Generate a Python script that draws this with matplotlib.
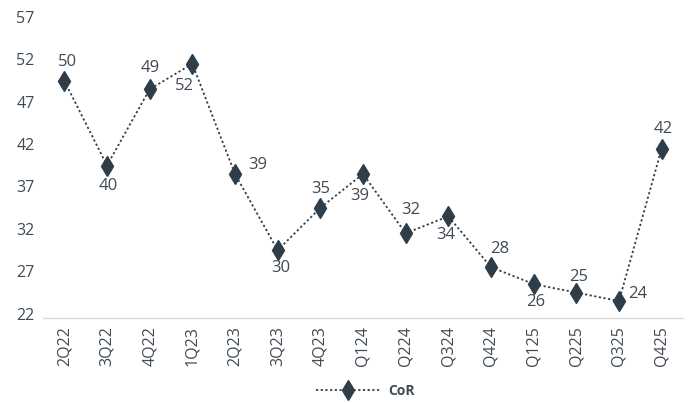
import matplotlib
matplotlib.use("Agg")
import matplotlib.pyplot as plt
import matplotlib.transforms as mtransforms

quarters = ["2Q22", "3Q22", "4Q22", "1Q23", "2Q23", "3Q23", "4Q23", "Q124",
            "Q224", "Q324", "Q424", "Q125", "Q225", "Q325", "Q425"]
cor = [50, 40, 49, 52, 39, 30, 35, 39, 32, 34, 28, 26, 25, 24, 42]
y_ticks = [22, 27, 32, 37, 42, 47, 52, 57]
series_name = "CoR"

# label placement per point, in pixels (dx, dy)
label_offsets = [(3, 19), (1, -20), (1, 21), (-8, -22), (23, 9), (3, -18),
                 (0, 19), (-3, -22), (5, 23), (-3, -19), (9, 18), (2, -18),
                 (2, 16), (19, 7), (2, 20)]

plt.rcParams["font.family"] = ["Open Sans", "DejaVu Sans"]
text_color = "#404a54"
mark_color = "#2f3d48"

fig = plt.figure(figsize=(7.0, 4.03), dpi=100)
ax = fig.add_axes([0.0614, 0.2109, 0.9143, 0.7358])

x = list(range(len(quarters)))
ax.plot(x, cor, color=mark_color, linestyle=(0, (1.2, 1.4)), linewidth=1.3,
        marker="d", markersize=10.5, markerfacecolor=mark_color,
        markeredgecolor=mark_color, label=series_name)

for xi, v, (dx, dy) in zip(x, cor, label_offsets):
    ax.annotate(str(v), (xi, v), xytext=(dx * 0.72, dy * 0.72),
                textcoords="offset points", ha="center", va="center",
                fontsize=12, color=text_color)

ax.set_xlim(-0.5, len(quarters) - 0.5)
ax.set_ylim(22, 57)
ax.set_yticks(y_ticks)
ax.set_yticklabels([str(t) for t in y_ticks])
ax.set_xticks(x)
ax.set_xticklabels(quarters, rotation=90)

for s in ["top", "right", "left"]:
    ax.spines[s].set_visible(False)
ax.spines["bottom"].set_color("#d9d9d9")
ax.spines["bottom"].set_linewidth(1.0)
ax.tick_params(axis="both", length=0, labelsize=11.5, colors=text_color)
ax.tick_params(axis="y", pad=6)
ax.tick_params(axis="x", pad=6)

# nudge y tick labels up slightly
shift = mtransforms.ScaledTranslation(0, 4.5 / 100, fig.dpi_scale_trans)
for lbl in ax.get_yticklabels():
    lbl.set_transform(lbl.get_transform() + shift)

leg = fig.legend(loc="center", bbox_to_anchor=(0.522, 0.029), frameon=False,
                 handlelength=4.6, handletextpad=0.6,
                 prop={"weight": "bold", "size": 10})
for t in leg.get_texts():
    t.set_color(text_color)

fig.savefig("out.png", dpi=100)
